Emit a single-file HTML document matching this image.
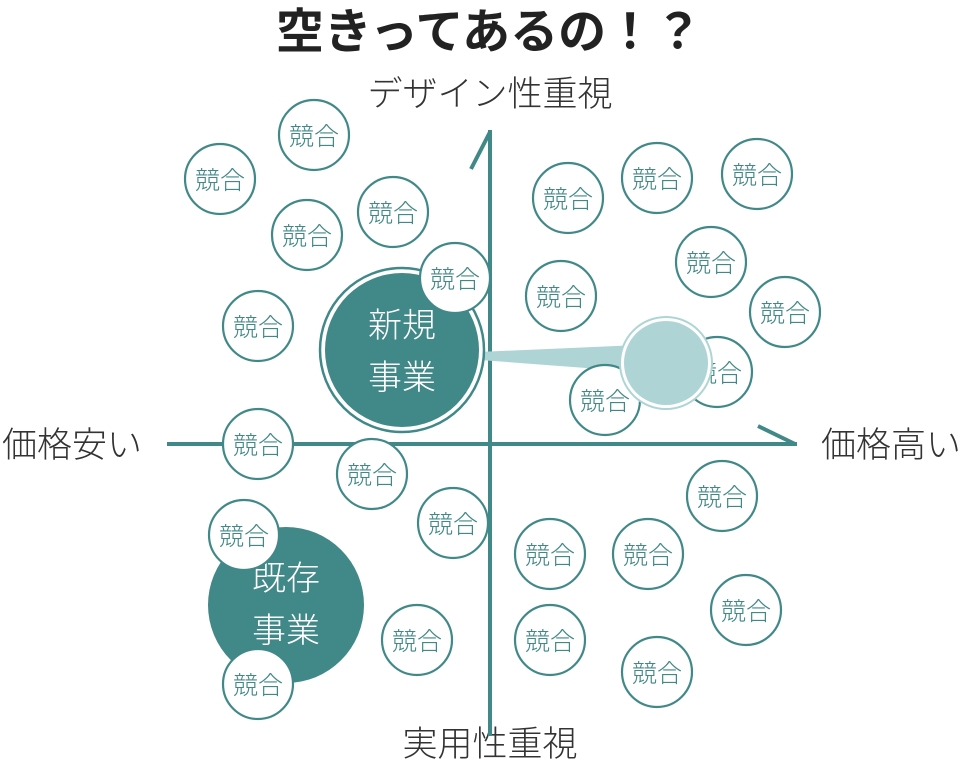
<!DOCTYPE html>
<html><head><meta charset="utf-8"><style>
html,body{margin:0;padding:0;background:#fff;}
svg{display:block;font-family:"Noto Sans CJK JP","Liberation Sans",sans-serif;font-weight:300;}
</style></head><body>
<svg width="964" height="766" viewBox="0 0 964 766" xmlns="http://www.w3.org/2000/svg">
<text x="489" y="48" text-anchor="middle" font-size="48" font-weight="bold" fill="#222">空きってあるの！？</text>
<text x="490" y="106" text-anchor="middle" font-size="35" fill="#333">デザイン性重視</text>
<text x="490" y="756" text-anchor="middle" font-size="35" fill="#333">実用性重視</text>
<text x="2" y="457" font-size="35" fill="#333">価格安い</text>
<text x="821" y="457" font-size="35" fill="#333">価格高い</text>
<g stroke="#418888" stroke-width="4" fill="none">
<line x1="490" y1="130" x2="490" y2="736"/>
<line x1="167" y1="444" x2="797" y2="444"/>
<polyline points="471,169 490,132"/>
<polyline points="758,426 795,444"/>
</g>
<circle cx="286" cy="605" r="78" fill="#418888"/>
<text x="286" y="590" text-anchor="middle" font-size="34" fill="#fff">既存</text>
<text x="286" y="642" text-anchor="middle" font-size="34" fill="#fff">事業</text>
<polygon points="478,352 480,360 640,372 640,345" fill="#aed4d5"/>
<circle cx="402" cy="350" r="82" fill="#fff" stroke="#418888" stroke-width="2.5"/>
<circle cx="402" cy="350" r="77" fill="#418888"/>
<text x="402" y="337" text-anchor="middle" font-size="34" fill="#fff">新規</text>
<text x="402" y="389" text-anchor="middle" font-size="34" fill="#fff">事業</text>
<g fill="#fff" stroke="#418888" stroke-width="2.2">
<circle cx="314" cy="135" r="35"/><circle cx="220" cy="179" r="35"/><circle cx="393" cy="212" r="35"/>
<circle cx="307" cy="235" r="35"/><circle cx="455" cy="278" r="35"/><circle cx="258" cy="326" r="35"/>
<circle cx="258" cy="444" r="35"/><circle cx="372" cy="474" r="35"/><circle cx="453" cy="523" r="35"/>
<circle cx="244" cy="535" r="35"/><circle cx="417" cy="640" r="35"/><circle cx="258" cy="684" r="35"/>
<circle cx="568" cy="198" r="35"/><circle cx="657" cy="178" r="35"/><circle cx="757" cy="174" r="35"/>
<circle cx="711" cy="262" r="35"/><circle cx="561" cy="296" r="35"/><circle cx="785" cy="312" r="35"/>
<circle cx="717" cy="372" r="35"/><circle cx="605" cy="400" r="35"/><circle cx="722" cy="496" r="35"/>
<circle cx="550" cy="554" r="35"/><circle cx="648" cy="554" r="35"/><circle cx="746" cy="610" r="35"/>
<circle cx="550" cy="640" r="35"/><circle cx="657" cy="672" r="35"/>
</g>
<g fill="#418888" font-size="25" text-anchor="middle">
<text x="314" y="145">競合</text><text x="220" y="189">競合</text><text x="393" y="222">競合</text>
<text x="307" y="245">競合</text><text x="455" y="288">競合</text><text x="258" y="336">競合</text>
<text x="258" y="454">競合</text><text x="372" y="484">競合</text><text x="453" y="533">競合</text>
<text x="244" y="545">競合</text><text x="417" y="650">競合</text><text x="258" y="694">競合</text>
<text x="568" y="208">競合</text><text x="657" y="188">競合</text><text x="757" y="184">競合</text>
<text x="711" y="272">競合</text><text x="561" y="306">競合</text><text x="785" y="322">競合</text>
<text x="717" y="382">競合</text><text x="605" y="410">競合</text><text x="722" y="506">競合</text>
<text x="550" y="564">競合</text><text x="648" y="564">競合</text><text x="746" y="620">競合</text>
<text x="550" y="650">競合</text><text x="657" y="682">競合</text>
</g>
<circle cx="666" cy="363" r="46" fill="#fff" stroke="#aed4d5" stroke-width="2"/>
<circle cx="666" cy="363" r="42" fill="#aed4d5"/>
</svg>
</body></html>
